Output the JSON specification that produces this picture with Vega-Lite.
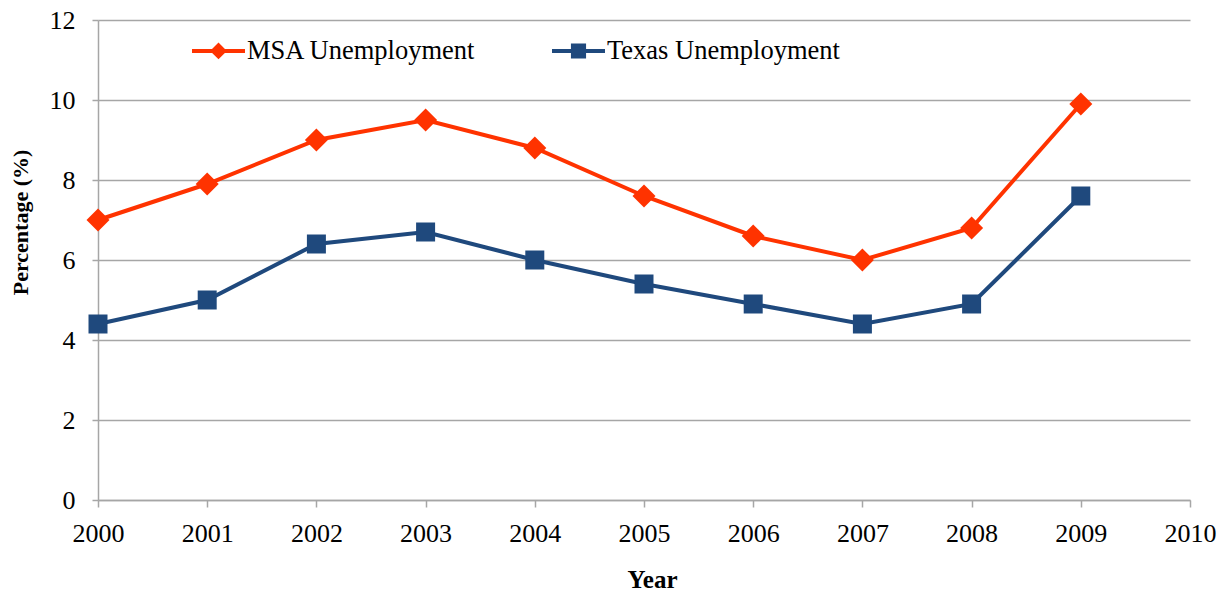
{
  "$schema": "https://vega.github.io/schema/vega-lite/v6.json",
  "width": 1092,
  "height": 480,
  "autosize": {"type": "none"},
  "padding": {"left": 98, "top": 20, "right": 38, "bottom": 95},
  "background": "white",
  "config": {
    "view": {"stroke": null},
    "font": "Liberation Serif",
    "axis": {
      "labelFont": "Liberation Serif",
      "titleFont": "Liberation Serif",
      "labelColor": "#000000",
      "titleColor": "#000000",
      "domainColor": "#a6a6a6",
      "domainWidth": 1.5,
      "tickColor": "#a6a6a6",
      "tickWidth": 1.5,
      "gridColor": "#a6a6a6",
      "gridWidth": 1.5
    },
    "legend": {"labelFont": "Liberation Serif"}
  },
  "data": {
    "values": [
      {"year": 2000, "series": "MSA Unemployment", "value": 7.0},
      {"year": 2001, "series": "MSA Unemployment", "value": 7.9},
      {"year": 2002, "series": "MSA Unemployment", "value": 9.0},
      {"year": 2003, "series": "MSA Unemployment", "value": 9.5},
      {"year": 2004, "series": "MSA Unemployment", "value": 8.8},
      {"year": 2005, "series": "MSA Unemployment", "value": 7.6},
      {"year": 2006, "series": "MSA Unemployment", "value": 6.6},
      {"year": 2007, "series": "MSA Unemployment", "value": 6.0},
      {"year": 2008, "series": "MSA Unemployment", "value": 6.8},
      {"year": 2009, "series": "MSA Unemployment", "value": 9.9},
      {"year": 2000, "series": "Texas Unemployment", "value": 4.4},
      {"year": 2001, "series": "Texas Unemployment", "value": 5.0},
      {"year": 2002, "series": "Texas Unemployment", "value": 6.4},
      {"year": 2003, "series": "Texas Unemployment", "value": 6.7},
      {"year": 2004, "series": "Texas Unemployment", "value": 6.0},
      {"year": 2005, "series": "Texas Unemployment", "value": 5.4},
      {"year": 2006, "series": "Texas Unemployment", "value": 4.9},
      {"year": 2007, "series": "Texas Unemployment", "value": 4.4},
      {"year": 2008, "series": "Texas Unemployment", "value": 4.9},
      {"year": 2009, "series": "Texas Unemployment", "value": 7.6}
    ]
  },
  "encoding": {
    "x": {
      "field": "year",
      "type": "quantitative",
      "scale": {"domain": [2000, 2010], "nice": false, "zero": false},
      "axis": {
        "title": "Year",
        "values": [2000, 2001, 2002, 2003, 2004, 2005, 2006, 2007, 2008, 2009, 2010],
        "format": "d",
        "grid": false,
        "tickSize": 7,
        "labelPadding": 13,
        "labelFontSize": 26,
        "labelFlush": false,
        "labelOverlap": false,
        "titleFontSize": 25,
        "titleFontWeight": "bold",
        "titleX": 554,
        "titleY": 87,
        "titleBaseline": "alphabetic"
      }
    },
    "y": {
      "field": "value",
      "type": "quantitative",
      "scale": {"domain": [0, 12], "nice": false},
      "axis": {
        "title": "Percentage (%)",
        "values": [0, 2, 4, 6, 8, 10, 12],
        "grid": true,
        "tickSize": 6,
        "labelPadding": 17,
        "labelFontSize": 26,
        "labelFlush": false,
        "titleFontSize": 22,
        "titleFontWeight": "bold",
        "titleX": -71,
        "titleY": 202,
        "titleAngle": -90,
        "titleAlign": "center",
        "titleBaseline": "alphabetic"
      }
    }
  },
  "layer": [
    {
      "mark": {"type": "line", "strokeWidth": 4},
      "encoding": {
        "color": {
          "field": "series",
          "type": "nominal",
          "scale": {"domain": ["MSA Unemployment", "Texas Unemployment"], "range": ["#FF3300", "#1F497D"]},
          "legend": {
            "title": null,
            "orient": "none",
            "direction": "horizontal",
            "legendX": 92,
            "legendY": 2,
            "padding": 0,
            "labelFont": "Liberation Serif",
            "labelFontSize": 26.5,
            "labelColor": "#000000",
            "labelOffset": 0,
            "labelLimit": 400,
            "columnPadding": 68,
            "symbolSize": 2809,
            "symbolStrokeWidth": 4,
            "encode": {
              "symbols": {
                "update": {
                  "shape": {"signal": "datum.value === 'MSA Unemployment' ? 'M-1,0L1,0M-0.21,0L0,-0.21L0.21,0L0,0.21Z' : 'M-1,0L1,0M-0.21,-0.21L0.21,-0.21L0.21,0.21L-0.21,0.21Z'"},
                  "stroke": {"signal": "datum.value === 'MSA Unemployment' ? '#FF3300' : '#1F497D'"},
                  "fill": {"signal": "datum.value === 'MSA Unemployment' ? '#FF3300' : '#1F497D'"},
                  "strokeWidth": {"value": 4},
                  "opacity": {"value": 1},
                  "fillOpacity": {"value": 1},
                  "strokeOpacity": {"value": 1}
                }
              }
            }
          }
        }
      }
    },
    {
      "transform": [{"filter": "datum.series === 'MSA Unemployment'"}],
      "mark": {"type": "point", "shape": "diamond", "filled": true, "opacity": 1, "color": "#FF3300", "size": 529}
    },
    {
      "transform": [{"filter": "datum.series === 'Texas Unemployment'"}],
      "mark": {"type": "point", "shape": "square", "filled": true, "opacity": 1, "color": "#1F497D", "size": 361}
    }
  ]
}
